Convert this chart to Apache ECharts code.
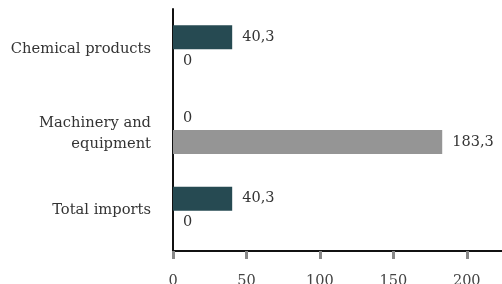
<!DOCTYPE html>
<html><head><meta charset="utf-8">
<script src="https://cdn.jsdelivr.net/npm/echarts@6/dist/echarts.min.js"></script>
<style>html,body{margin:0;padding:0;background:#fff}#c{width:502px;height:284px}</style>
</head><body><div id="c"></div>
<script>
const categories = ['Chemical products', 'Machinery and\nequipment', 'Total imports'];
const seriesDark = [40.3, 0, 40.3];
const seriesGray = [0, 183.3, 0];
const xTicks = [0, 50, 100, 150, 200];

const font = 'DejaVu Serif';
const fmt = p => String(p.value).replace('.', ',');
const chart = echarts.init(document.getElementById('c'), null, {renderer: 'canvas'});
chart.setOption({
  animation: false,
  grid: {left: 173, right: 0, top: 9, bottom: 33, outerBoundsMode: 'none', containLabel: false},
  xAxis: {
    type: 'value', min: 0, max: 224, interval: 50,
    splitLine: {show: false},
    axisLine: {show: true, lineStyle: {color: '#111', width: 2}},
    axisTick: {show: true, length: 8, customValues: xTicks, lineStyle: {color: '#888', width: 3}},
    axisLabel: {customValues: xTicks, color: '#444', fontFamily: font, fontSize: 14.5, margin: 23}
  },
  yAxis: {
    type: 'category', data: categories, inverse: true,
    axisLine: {show: true, lineStyle: {color: '#111', width: 2}},
    axisTick: {show: false},
    axisLabel: {color: '#333', fontFamily: font, fontSize: 14.7, margin: 22, lineHeight: 21, align: 'right',
      formatter: v => v.indexOf('\n') >= 0 ? v.split('\n').map(s => '{m|' + s + '}').join('\n') : v,
      rich: {m: {fontFamily: font, fontSize: 14.7, color: '#333', lineHeight: 21, padding: [8, 0, 0, 0]}}}
  },
  series: [
    {type: 'bar', data: seriesDark, barWidth: 24, barGap: '0%', itemStyle: {color: '#264a52'},
     label: {show: true, position: 'right', distance: 10, formatter: fmt, color: '#333', fontFamily: font, fontSize: 14.5}},
    {type: 'bar', data: seriesGray, barWidth: 24, barGap: '0%', itemStyle: {color: '#959595'},
     label: {show: true, position: 'right', distance: 10, formatter: fmt, color: '#333', fontFamily: font, fontSize: 14.5}}
  ]
});
</script></body></html>
